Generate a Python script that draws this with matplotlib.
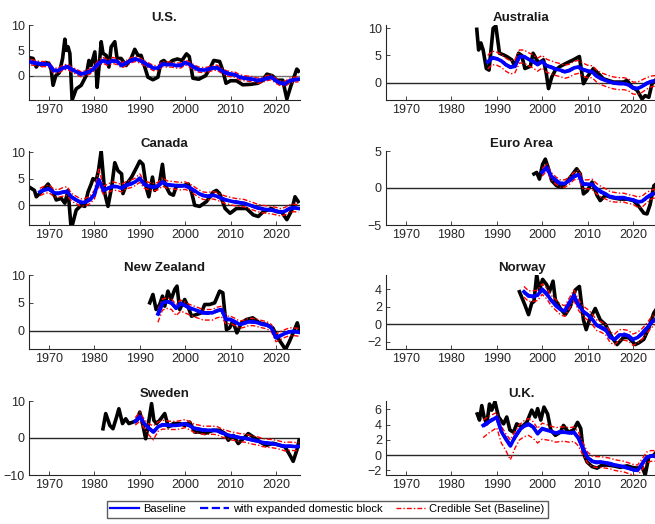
import numpy as np
import matplotlib
matplotlib.use("Agg")
import matplotlib.pyplot as plt
from matplotlib.lines import Line2D

plt.rcParams['font.family'] = ['Liberation Sans', 'DejaVu Sans']

# ---------------- data ----------------
countries = ["U.S.", "Australia", "Canada", "Euro Area", "New Zealand", "Norway", "Sweden", "U.K."]

# model series start years (annual to 2025)
start_years = {"U.S.": 1966, "Australia": 1988, "Canada": 1968, "Euro Area": 2000,
               "New Zealand": 1994, "Norway": 1996, "Sweden": 1989, "U.K.": 1987}

us_base = [2.7,2.5,2.3,2.3,2.2,1.0,1.0,1.5,1.8,1.2, 0.8,0.3,0.5,0.8,1.5,2.5,3.0,2.5,3.0,2.8,
           2.0,2.5,3.0,3.3,3.0,2.5,2.0,1.5,1.5,2.3, 2.2,2.2,2.0,2.0,2.6,2.2,1.6,1.2,1.1,1.2,
           1.5,1.6,1.0,0.5,0.3,0.2,-0.3,-0.5,-0.6,-0.7, -1.0,-0.8,-0.5,-0.3,-1.0,-1.5,-1.6,-1.0,-0.8,-0.7]
us_exp = [2.6,2.5,2.4,2.2,2.2,1.1,1.0,1.4,1.8,1.3, 0.8,0.4,0.5,0.9,1.5,2.4,3.0,2.6,2.9,2.8,
          2.1,2.5,2.9,3.3,3.1,2.5,2.0,1.6,1.5,2.2, 2.2,2.1,2.0,2.1,2.5,2.2,1.7,1.2,1.1,1.3,
          1.5,1.5,1.0,0.6,0.3,0.2,-0.2,-0.5,-0.6,-0.8, -0.9,-0.8,-0.6,-0.3,-1.0,-1.4,-1.6,-1.1,-0.8,-0.7]
us_lo = [2.1,2.0,1.8,1.8,1.7,0.5,0.5,1.0,1.3,0.7, 0.3,-0.2,0.0,0.3,1.0,2.0,2.4,2.0,2.4,2.2,
         1.5,2.0,2.5,2.8,2.5,2.0,1.5,1.0,1.0,1.8, 1.7,1.7,1.5,1.5,2.1,1.7,1.1,0.7,0.6,0.7,
         1.0,1.1,0.5,0.0,-0.2,-0.3,-0.8,-1.0,-1.1,-1.2, -1.5,-1.3,-1.0,-0.8,-1.5,-2.0,-2.1,-1.5,-1.3,-1.2]
us_hi = [3.2,3.0,2.8,2.8,2.7,1.5,1.5,2.0,2.3,1.7, 1.3,0.8,1.0,1.3,2.0,3.2,3.6,3.0,3.6,3.4,
         2.5,3.0,3.5,3.8,3.5,3.0,2.5,2.0,2.0,2.8, 2.7,2.7,2.5,2.5,3.1,2.7,2.1,1.7,1.6,1.7,
         2.0,2.1,1.5,1.0,0.8,0.7,0.2,0.0,-0.1,-0.2, -0.5,-0.3,0.0,0.2,-0.5,-1.0,-1.1,-0.5,-0.3,-0.2]
us_act_t = [1966.0,1966.5,1967.2,1967.8,1968.5,1969.3,1970.0,1970.5,1970.9,1971.5,1972.3,1973.0,1973.5,1973.8,
            1974.2,1974.6,1975.1,1976.0,1977.1,1978.2,1978.8,1979.3,1980.1,1980.4,1980.6,1981.2,1981.5,1981.9,
            1982.6,1983.2,1983.7,1984.5,1985.0,1985.9,1987.0,1988.1,1988.9,1989.6,1990.3,1991.1,1991.8,1992.9,
            1994.0,1994.7,1995.3,1996.2,1997.2,1998.3,1999.3,2000.3,2000.9,2001.7,2003.0,2004.5,2005.5,2006.3,
            2007.6,2008.3,2009.0,2010.0,2011.3,2012.7,2014.5,2016.0,2017.0,2018.0,2019.2,2020.2,2021.5,2022.4,
            2023.3,2024.6,2025.0]
us_act_v = [3.5,3.4,1.7,2.4,2.0,2.6,2.4,1.1,-1.9,0.0,0.6,3.4,7.2,5.0,
            5.7,4.4,-4.8,-2.6,-1.9,0.0,3.0,2.0,4.7,1.0,-2.3,3.4,6.7,4.4,
            4.0,1.7,5.7,6.7,3.4,3.4,2.0,3.4,5.2,4.0,4.0,1.7,-0.3,-0.8,
            -0.3,2.7,3.0,2.2,3.0,3.3,3.0,4.3,3.8,-0.5,-0.7,0.0,1.5,3.0,
            2.8,1.0,-1.5,-1.0,-1.0,-1.8,-1.7,-1.5,-1.0,0.3,0.0,-0.9,-0.9,-4.6,
            -2.0,1.3,0.9]

aus_base = [3.8,4.6,4.4,4.0,3.3,2.8,3.0,4.8,4.8,4.3, 3.9,3.3,3.9,3.1,2.8,2.5,2.3,2.0,2.2,2.7,
            2.9,2.4,2.1,2.0,1.2,0.7,0.4,0.1,-0.1,-0.2, -0.2,-0.4,-1.0,-1.1,-0.7,-0.2,0.2,0.3]
aus_exp = [3.7,4.5,4.4,4.1,3.3,2.9,3.1,4.7,4.8,4.2, 3.9,3.4,3.8,3.1,2.9,2.5,2.2,2.0,2.3,2.7,
           2.8,2.4,2.2,1.9,1.2,0.8,0.4,0.1,-0.1,-0.1, -0.2,-0.4,-0.9,-1.1,-0.7,-0.1,0.2,0.3]
aus_hi = [5.0,5.8,5.6,5.2,4.5,4.0,4.2,6.0,6.0,5.5, 5.1,4.5,5.0,4.3,4.0,3.7,3.5,3.2,3.4,3.9,
          4.1,3.6,3.2,3.1,2.3,1.8,1.5,1.2,1.0,0.9, 0.9,0.7,0.1,0.1,0.5,0.9,1.2,1.3]
aus_lo = [2.5,3.3,3.2,2.8,2.1,1.6,1.8,3.6,3.6,3.1, 2.7,2.1,2.7,1.9,1.6,1.3,1.1,0.8,1.0,1.5,
          1.7,1.2,0.9,0.9,0.1,-0.4,-0.7,-1.0,-1.2,-1.3, -1.3,-1.5,-2.1,-2.2,-1.8,-1.2,-0.8,-0.6]
aus_act_t = [1985.6,1986.0,1986.5,1987.0,1987.7,1988.3,1989.2,1989.8,1990.6,1991.5,1992.2,1993.3,1994.0,
             1994.8,1995.5,1996.2,1997.4,1998.0,1999.2,2000.3,2000.9,2001.4,2002.1,2002.9,2004.0,2005.4,
             2006.9,2008.2,2009.1,2009.9,2011.3,2012.0,2013.5,2015.7,2017.9,2018.7,2019.8,2020.9,2022.0,
             2022.7,2023.5,2024.2,2025.0]
aus_act_v = [9.8,6.0,7.3,6.0,2.6,2.3,10.0,10.4,5.4,5.1,4.8,4.2,3.0,
             5.4,5.0,2.6,3.0,5.4,3.6,4.2,1.7,-1.1,1.0,2.3,3.0,3.6,
             4.2,4.8,-0.2,1.0,2.6,2.0,0.7,0.1,0.1,0.4,-0.8,-1.4,-3.0,
             -2.4,-2.7,-0.2,0.5]

can_base = [2.5,2.9,3.1,2.4,2.2,2.5,2.6,1.5,1.0,0.5, 0.6,1.0,2.0,4.8,2.8,3.2,3.6,3.5,3.2,3.8,
            4.0,4.4,5.1,3.9,3.6,3.4,3.6,4.4,3.9,3.8, 3.7,3.6,3.7,3.3,2.8,2.2,1.8,1.7,1.9,1.7,
            1.3,1.0,0.8,0.6,0.5,0.4,0.1,-0.2,-0.5,-0.7, -0.8,-0.9,-1.1,-1.3,-1.1,-0.6,-0.5,-0.6]
can_exp = [2.6,2.9,3.0,2.4,2.3,2.4,2.6,1.6,1.0,0.6, 0.6,1.1,2.0,4.6,2.9,3.2,3.5,3.5,3.3,3.7,
           4.0,4.3,5.0,4.0,3.6,3.5,3.6,4.3,3.9,3.7, 3.7,3.6,3.6,3.3,2.7,2.2,1.9,1.7,1.8,1.7,
           1.3,1.0,0.8,0.7,0.5,0.3,0.1,-0.2,-0.5,-0.6, -0.8,-0.9,-1.0,-1.3,-1.1,-0.6,-0.4,-0.6]
can_hi = [3.2,3.6,3.8,3.1,2.9,3.3,3.5,2.2,1.7,1.2, 1.3,1.7,2.8,6.8,3.6,4.0,4.4,4.2,3.9,4.5,
          4.7,5.1,5.9,4.6,4.3,4.1,4.3,5.2,4.6,4.5, 4.4,4.3,4.4,4.0,3.5,2.9,2.5,2.4,2.6,2.4,
          2.0,1.7,1.5,1.3,1.2,1.1,0.8,0.5,0.2,0.0, -0.1,-0.2,-0.4,-0.6,-0.4,0.1,0.2,0.1]
can_lo = [1.8,2.2,2.4,1.7,1.5,1.7,1.8,0.8,0.3,-0.2, -0.1,0.3,1.2,3.8,2.0,2.4,2.8,2.8,2.5,3.1,
          3.3,3.7,4.3,3.2,2.9,2.7,2.9,3.6,3.2,3.1, 3.0,2.9,3.0,2.6,2.1,1.5,1.1,1.0,1.2,1.0,
          0.6,0.3,0.1,-0.1,-0.2,-0.3,-0.6,-0.9,-1.2,-1.4, -1.5,-1.6,-1.8,-2.0,-1.8,-1.3,-1.2,-1.3]
can_act_t = [1965.7,1966.8,1967.2,1968.3,1969.8,1970.9,1971.6,1972.7,1973.5,1974.2,1974.9,1976.0,1977.1,
             1977.9,1978.6,1979.3,1979.7,1980.4,1980.9,1981.5,1982.3,1983.0,1983.8,1984.5,1985.2,1986.0,
             1986.3,1987.1,1988.2,1989.3,1990.0,1990.7,1991.5,1992.0,1992.8,1993.3,1994.3,1995.0,1995.5,
             1996.6,1997.4,1998.1,1999.6,2000.7,2001.4,2002.1,2003.2,2004.7,2006.2,2006.9,2007.6,2008.8,
             2009.9,2011.3,2013.5,2015.0,2016.1,2017.2,2019.0,2020.1,2021.2,2022.4,2023.5,2024.2,2024.9]
can_act_v = [3.4,2.8,1.6,2.5,4.0,2.5,1.0,1.3,0.4,2.8,-4.5,-0.9,0.0,
             -0.2,2.5,4.0,5.0,4.7,6.5,10.2,2.2,-0.2,3.4,8.0,6.5,5.9,
             2.2,4.0,5.3,7.1,8.3,7.7,3.1,1.6,5.3,2.8,4.0,7.7,4.0,
             2.2,1.9,3.7,3.7,4.0,2.5,0.0,-0.2,0.7,2.5,2.8,2.2,-0.6,
             -1.5,-0.6,-0.6,-1.8,-2.1,-1.2,-0.6,-1.2,-1.2,-2.7,-0.9,1.6,0.7]

eur_base = [2.1,2.8,1.6,1.0,0.6,0.6,1.0,1.6,1.8,0.5, 0.5,0.5,-0.1,-0.5,-0.8,-1.2,-1.3,-1.3,-1.3,-1.5,
            -1.6,-1.9,-1.8,-1.3,-0.9,-0.7]
eur_exp = [2.2,2.7,1.6,1.1,0.6,0.7,1.0,1.5,1.8,0.6, 0.5,0.4,-0.1,-0.6,-0.8,-1.1,-1.3,-1.4,-1.3,-1.5,
           -1.6,-1.8,-1.9,-1.3,-0.9,-0.6]
eur_hi = [2.6,3.3,2.1,1.5,1.1,1.1,1.5,2.1,2.4,1.1, 1.1,1.2,0.6,0.2,-0.1,-0.5,-0.6,-0.7,-0.7,-0.9,
          -1.0,-1.2,-1.1,-0.6,-0.3,-0.1]
eur_lo = [1.6,2.3,1.1,0.5,0.1,0.1,0.5,1.1,1.2,-0.1, -0.1,-0.2,-0.8,-1.2,-1.5,-1.8,-1.9,-1.9,-1.9,-2.1,
          -2.2,-2.6,-2.6,-2.0,-1.5,-1.3]
eur_act_t = [1998.2,1998.8,1999.4,2000.1,2000.7,2001.4,2002.1,2003.2,2004.3,2005.4,2006.5,2007.6,2008.4,
             2009.1,2009.9,2011.0,2012.1,2012.8,2013.9,2015.4,2017.2,2018.7,2020.1,2021.2,2022.4,2023.1,
             2023.8,2024.6,2025.0]
eur_act_v = [1.9,2.1,1.2,3.2,3.9,2.6,1.0,0.3,0.1,0.8,1.7,2.6,1.9,
             -0.8,-0.4,0.8,-1.0,-1.7,-1.0,-1.3,-1.5,-1.5,-1.7,-2.4,-3.4,-3.5,
             -2.2,0.3,0.5]

nz_base = [3.0,5.0,5.2,5.0,4.0,4.9,4.5,4.1,3.8,3.5, 3.2,3.2,3.2,3.6,3.8,2.0,2.0,1.6,1.1,1.3,
           1.6,1.6,1.4,1.2,1.0,0.5,-1.3,-0.9,-0.5,-0.2, -0.2,-0.3]
nz_exp = [2.8,4.8,5.3,4.9,4.1,4.8,4.5,4.0,3.8,3.4, 3.2,3.1,3.2,3.5,3.8,2.1,2.0,1.5,1.1,1.4,
          1.6,1.5,1.4,1.1,1.0,0.6,-1.2,-0.9,-0.5,-0.2, -0.1,-0.3]
nz_hi = [3.8,5.7,5.9,5.7,4.7,5.5,5.1,4.7,4.4,4.1, 3.8,3.8,3.8,4.2,4.4,2.6,2.6,2.2,1.7,1.9,
         2.2,2.2,2.0,1.8,1.6,1.1,-0.6,-0.2,0.2,0.5, 0.5,0.4]
nz_lo = [1.5,3.7,4.0,3.8,2.7,3.5,3.2,2.8,2.5,2.2, 1.9,1.9,1.9,2.3,2.5,1.2,1.3,0.9,0.4,0.6,
         0.9,0.9,0.7,0.5,0.3,-0.2,-2.0,-1.6,-1.2,-0.9, -0.9,-1.0]
nz_act_t = [1992.2,1992.9,1993.6,1994.4,1995.0,1995.5,1996.2,1996.9,1997.7,1998.2,1998.8,1999.9,2000.6,
            2001.4,2002.5,2003.6,2004.3,2005.4,2006.5,2007.6,2008.3,2009.1,2009.8,2010.5,2011.4,2012.4,
            2013.5,2014.9,2016.4,2017.9,2019.3,2020.4,2021.4,2022.1,2023.0,2024.1,2024.7,2025.2]
nz_act_v = [5.0,6.5,3.8,4.7,6.2,4.4,7.1,5.6,7.4,8.0,3.8,5.6,4.4,
            2.6,2.9,3.2,4.7,4.7,5.0,7.1,6.8,0.2,0.5,1.7,-0.4,1.4,
            2.0,2.3,1.4,1.1,0.5,-1.3,-2.5,-3.4,-1.9,0.2,1.4,-0.1]

nor_base = [3.7,3.2,3.2,3.3,4.0,3.5,2.7,2.2,1.7,1.5, 2.4,3.3,2.2,1.5,1.1,0.6,-0.1,-0.3,-0.6,-1.5,
            -1.7,-1.2,-1.2,-1.3,-1.7,-1.5,-1.1,-0.5,0.2,0.6]
nor_exp = [3.6,3.3,3.1,3.4,3.9,3.4,2.8,2.1,1.7,1.6, 2.5,3.2,2.1,1.4,1.1,0.5,-0.1,-0.4,-0.7,-1.4,
           -1.7,-1.3,-1.1,-1.3,-1.8,-1.5,-1.0,-0.4,0.2,0.5]
nor_hi = [4.3,3.8,3.8,3.9,4.6,4.1,3.3,2.8,2.3,2.1, 3.0,3.9,2.8,2.1,1.7,1.2,0.5,0.3,0.0,-0.9,
          -1.1,-0.6,-0.6,-0.7,-1.1,-0.9,-0.5,0.1,0.8,1.2]
nor_lo = [3.1,2.6,2.6,2.7,3.4,2.9,2.1,1.6,1.1,0.9, 1.8,2.7,1.6,0.9,0.5,0.0,-0.7,-0.9,-1.2,-2.1,
          -2.3,-1.8,-1.8,-1.9,-2.4,-2.1,-1.7,-1.1,-0.4,0.0]
nor_act_t = [1995.0,1996.2,1997.0,1997.7,1998.2,1998.8,1999.4,2000.1,2001.0,2001.6,2002.4,2002.9,2004.0,
             2005.1,2006.2,2007.3,2008.2,2009.1,2009.7,2010.4,2011.7,2012.8,2013.9,2015.4,2016.5,2017.9,
             2019.0,2019.8,2020.5,2021.3,2022.4,2023.5,2024.6,2025.0]
nor_act_v = [3.7,2.2,1.1,2.4,2.6,5.6,3.9,5.1,4.5,3.7,4.9,2.8,1.8,
             1.1,2.0,3.9,4.3,0.5,-0.6,0.5,1.8,0.5,0.0,-1.5,-2.3,-1.5,
             -1.5,-1.9,-2.3,-2.1,-1.7,-0.4,1.3,1.6]

swe_base = [4.5,5.8,3.9,2.6,1.6,3.0,3.6,3.5,3.4,3.4, 3.6,3.9,3.3,2.6,2.4,2.1,2.1,2.1,2.0,1.4,
            1.0,0.6,0.4,0.1,0.0,-0.3,-0.6,-0.8,-1.2,-1.4, -1.5,-1.7,-2.0,-2.3,-2.2,-2.3,-2.3]
swe_exp = [4.4,5.6,4.0,2.7,1.7,2.9,3.5,3.5,3.3,3.4, 3.6,3.8,3.3,2.7,2.4,2.2,2.1,2.0,2.0,1.5,
           1.0,0.5,0.4,0.1,-0.1,-0.3,-0.6,-0.9,-1.2,-1.3, -1.5,-1.8,-2.0,-2.2,-2.2,-2.3,-2.2]
swe_hi = [5.5,7.0,5.0,3.8,3.3,4.3,4.8,4.6,4.5,4.5, 4.7,5.0,4.4,3.7,3.5,3.2,3.2,3.2,3.1,2.5,
          2.1,1.7,1.5,1.2,1.1,0.8,0.5,0.3,-0.1,-0.3, -0.4,-0.6,-0.9,-1.2,-1.1,-1.2,-1.2]
swe_lo = [3.5,4.5,2.6,0.8,-0.5,1.8,2.4,2.4,2.3,2.3, 2.5,2.8,2.2,1.5,1.3,1.0,1.0,1.0,0.9,0.3,
          -0.1,-0.5,-0.7,-1.0,-1.1,-1.4,-1.7,-1.9,-2.3,-2.5, -2.6,-2.8,-3.1,-3.5,-3.3,-3.4,-3.4]
swe_act_t = [1981.9,1982.5,1983.4,1984.1,1984.9,1985.4,1986.2,1986.9,1987.6,1988.5,1989.4,1990.0,1990.7,
             1991.3,1991.8,1992.6,1993.1,1993.7,1994.4,1995.5,1996.3,1997.4,1998.8,1999.9,2001.0,2002.1,
             2003.2,2004.3,2006.2,2007.6,2008.8,2009.5,2010.6,2011.7,2013.2,2013.9,2015.0,2016.5,2017.9,
             2019.4,2020.9,2022.0,2023.1,2023.8,2024.6,2025.1]
swe_act_v = [2.5,6.6,3.4,2.5,5.7,7.9,3.9,5.2,3.9,4.3,4.8,7.0,3.4,
             -0.2,3.0,9.3,4.8,3.9,4.8,6.6,3.0,3.9,3.9,3.4,4.3,1.6,
             1.6,1.2,2.1,2.1,1.2,-0.6,0.7,-1.5,0.3,1.2,0.3,-1.1,-2.0,
             -1.4,-2.0,-2.4,-4.7,-6.3,-3.3,-0.6]

uk_base = [3.9,4.3,4.6,5.0,3.1,2.1,1.2,2.4,3.3,3.8, 4.1,3.7,2.8,3.5,3.3,3.1,2.9,3.0,3.0,2.9,
           3.0,2.2,0.8,-0.3,-0.8,-0.9,-0.9,-1.0,-1.1,-1.3, -1.4,-1.5,-1.7,-1.9,-2.0,-1.2,-0.3,-0.1,-0.1]
uk_exp = [3.8,4.2,4.7,4.9,3.2,2.2,1.3,2.3,3.2,3.8, 4.0,3.7,2.9,3.4,3.3,3.0,2.9,3.1,3.0,2.8,
          3.0,2.3,0.9,-0.2,-0.8,-1.0,-0.9,-1.0,-1.2,-1.3, -1.4,-1.6,-1.7,-1.9,-2.1,-1.1,-0.3,-0.1,-0.2]
uk_hi = [4.6,5.0,5.3,5.6,3.8,2.8,2.0,3.1,4.0,4.5, 4.8,4.4,3.5,4.2,4.0,3.8,3.6,3.7,3.7,3.6,
         3.7,3.0,1.6,0.4,-0.1,-0.2,-0.2,-0.3,-0.4,-0.6, -0.7,-0.8,-1.0,-1.2,-1.3,-0.5,0.4,0.6,0.6]
uk_lo = [2.3,2.8,3.2,3.6,1.6,0.6,-0.6,0.9,2.0,2.4, 2.6,2.2,1.6,2.1,2.0,1.9,1.7,1.8,1.8,1.7,
         1.8,1.2,0.0,-1.0,-1.5,-1.6,-1.6,-1.7,-1.8,-2.0, -2.1,-2.2,-2.4,-2.6,-2.7,-1.9,-1.0,-0.8,-0.8]
uk_act_t = [1985.7,1986.2,1986.7,1987.2,1987.8,1988.4,1988.9,1989.6,1990.4,1991.5,1992.2,1992.9,1993.7,
            1994.4,1995.5,1996.6,1997.7,1998.5,1999.0,1999.7,2000.4,2001.2,2001.9,2002.9,2004.0,2004.7,
            2005.8,2006.9,2007.8,2008.5,2009.1,2009.9,2011.0,2012.1,2013.2,2014.3,2015.7,2017.2,2018.7,
            2019.8,2020.9,2022.0,2022.7,2023.5,2024.6,2025.0]
uk_act_v = [5.4,4.6,6.5,5.0,4.1,6.7,5.9,7.0,5.0,4.1,5.0,3.3,3.0,
            4.1,3.7,4.3,5.9,5.0,6.1,4.6,6.3,5.4,3.3,2.6,3.0,3.9,
            3.0,3.3,4.3,3.5,0.2,-0.9,-1.5,-1.7,-1.3,-1.3,-1.4,-1.6,-1.4,
            -1.6,-1.7,-1.5,-2.6,-0.2,0.0,0.3]

y_limits = {"U.S.": (-4.8, 10), "Australia": (-3.2, 10.6), "Canada": (-3.7, 10.2),
            "Euro Area": (-5, 5), "New Zealand": (-3.3, 10), "Norway": (-2.8, 5.6),
            "Sweden": (-10, 10), "U.K.": (-2.6, 7.1)}
y_ticks = {"U.S.": [0, 5, 10], "Australia": [0, 5, 10], "Canada": [0, 5, 10],
           "Euro Area": [-5, 0, 5], "New Zealand": [0, 5, 10], "Norway": [-2, 0, 2, 4],
           "Sweden": [-10, 0, 10], "U.K.": [-2, 0, 2, 4, 6]}
x_ticks = [1970, 1980, 1990, 2000, 2010, 2020]

series = {
    "U.S.": (us_base, us_exp, us_lo, us_hi, us_act_t, us_act_v),
    "Australia": (aus_base, aus_exp, aus_lo, aus_hi, aus_act_t, aus_act_v),
    "Canada": (can_base, can_exp, can_lo, can_hi, can_act_t, can_act_v),
    "Euro Area": (eur_base, eur_exp, eur_lo, eur_hi, eur_act_t, eur_act_v),
    "New Zealand": (nz_base, nz_exp, nz_lo, nz_hi, nz_act_t, nz_act_v),
    "Norway": (nor_base, nor_exp, nor_lo, nor_hi, nor_act_t, nor_act_v),
    "Sweden": (swe_base, swe_exp, swe_lo, swe_hi, swe_act_t, swe_act_v),
    "U.K.": (uk_base, uk_exp, uk_lo, uk_hi, uk_act_t, uk_act_v),
}

# ---------------- figure ----------------
W, H = 655, 524
fig = plt.figure(figsize=(W / 100, H / 100), dpi=100)

col_left = [29, 386]
ax_w = 271
row_top = [25, 151, 275, 401]
row_bot = [100, 225, 349, 475]
red_dash = (0, (3.5, 1.5, 1, 1.5))

for i, name in enumerate(countries):
    r, c = divmod(i, 2)
    left = col_left[c] / W
    bottom = 1 - row_bot[r] / H
    height = (row_bot[r] - row_top[r]) / H
    ax = fig.add_axes([left, bottom, ax_w / W, height])
    base, exp_, lo, hi, at, av = series[name]
    yrs = np.arange(start_years[name], start_years[name] + len(base))
    ax.axhline(0, color='0.15' if name != "U.S." else '0.45', lw=1.0, zorder=1)
    ax.plot(at, av, color='black', lw=2.6, zorder=2, solid_joinstyle='round')
    ax.plot(yrs, lo, color='red', lw=1.0, ls=red_dash, zorder=3)
    ax.plot(yrs, hi, color='red', lw=1.0, ls=red_dash, zorder=3)
    ax.plot(yrs, exp_, color='blue', lw=2.4, ls='--', zorder=4)
    ax.plot(yrs, base, color='blue', lw=2.6, zorder=5)
    ax.set_xlim(1965.6, 2025.3)
    ax.set_ylim(*y_limits[name])
    ax.set_xticks(x_ticks)
    ax.set_yticks(y_ticks[name])
    ax.spines['top'].set_visible(False)
    ax.spines['right'].set_visible(False)
    for s in ('left', 'bottom'):
        ax.spines[s].set_color('0.15')
        ax.spines[s].set_linewidth(0.8)
    ax.tick_params(direction='in', length=3, width=0.6, labelsize=9, colors='0.15', pad=3)
    ax.set_title(name, fontsize=9.5, fontweight='bold', color='0.1', pad=3)

handles = [Line2D([], [], color='blue', lw=1.6),
           Line2D([], [], color='blue', lw=1.6, ls='--'),
           Line2D([], [], color='red', lw=1.0, ls=red_dash)]
labels = ["Baseline", "with expanded domestic block", "Credible Set (Baseline)"]
fig.legend(handles, labels, loc='upper center', bbox_to_anchor=(0.5, 1 - 501 / H), ncol=3,
           fontsize=8, frameon=True, fancybox=False, edgecolor='0.2', borderpad=0.3,
           handlelength=2.6, columnspacing=1.2, handletextpad=0.4, borderaxespad=0)

fig.savefig("out.png", dpi=100)
